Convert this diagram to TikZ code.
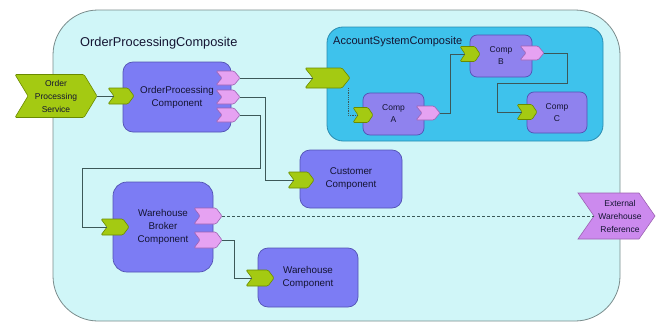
\documentclass[tikz,border=0pt]{standalone}
\usepackage{fontspec}
\setmainfont{Liberation Sans}
\definecolor{outerfill}{HTML}{D0F6F8}
\definecolor{outerline}{HTML}{7A8C8C}
\definecolor{ascfill}{HTML}{3EC2EC}
\definecolor{ascline}{HTML}{2A8CB0}
\definecolor{compfill}{HTML}{7C7CF4}
\definecolor{compline}{HTML}{5252B4}
\definecolor{innerfill}{HTML}{8F82EE}
\definecolor{svcfill}{HTML}{A4CA12}
\definecolor{svcline}{HTML}{6A8A00}
\definecolor{reffill}{HTML}{E6A2F2}
\definecolor{refline}{HTML}{9C62B2}
\definecolor{extfill}{HTML}{CC8AEE}
\definecolor{wirecol}{HTML}{3C5858}
\definecolor{textcol}{HTML}{141432}
\tikzset{
  % chevron port: half width, half height, tip depth, style
  pics/chev/.style n args={4}{code={
    \draw[#4] (-#1,-#2) -- ({#1-#3},-#2) -- (#1,0) -- ({#1-#3},#2)
      -- (-#1,#2) -- ({-#1+#3},0) -- cycle;
    \coordinate (-in) at ({-#1+#3},0);
    \coordinate (-out) at (#1,0);
  }},
  svc/.style={fill=svcfill, draw=svcline, line width=0.6pt, rounded corners=1.2pt},
  ref/.style={fill=reffill, draw=refline, line width=0.6pt, rounded corners=1.2pt},
  extref/.style={fill=extfill, draw=refline, line width=0.6pt},
  box/.style={draw, anchor=north west, inner sep=0pt, outer sep=0pt,
    align=center, text=textcol},
  comp/.style={box, fill=compfill, draw=compline, line width=0.7pt,
    rounded corners=10pt, font=\fontsize{9.8}{13}\selectfont},
  inner/.style={box, fill=innerfill, draw=compline, line width=0.7pt,
    rounded corners=7pt, font=\fontsize{8.5}{12}\selectfont},
  wire/.style={draw=wirecol, line width=0.8pt},
  title/.style={anchor=west, inner sep=0pt, text=textcol},
  lbl/.style={align=center, inner sep=0pt, text=textcol,
    font=\fontsize{8.5}{13}\selectfont}
}
\begin{document}
\begin{tikzpicture}[x=1pt,y=-1pt]
\useasboundingbox (0,0) rectangle (656,324);
\fill[white] (0,0) rectangle (656,324);

% composites
\node[box, fill=outerfill, draw=outerline, line width=0.8pt, rounded corners=45pt,
  minimum width=567pt, minimum height=311pt] (opcomp) at (53,10) {};
\node[title, font=\fontsize{12.8}{14}\selectfont] (opcompt) at (80,43) {OrderProcessingComposite};
\node[box, fill=ascfill, draw=ascline, line width=0.8pt, rounded corners=16pt,
  minimum width=276pt, minimum height=114pt] (asc) at (327,27) {};
\node[title, font=\fontsize{11}{12}\selectfont] (asctitle) at (333,42) {AccountSystemComposite};

% components
\node[comp, minimum width=108pt, minimum height=70pt] (opc) at (123,62) {OrderProcessing\\Component};
\node[inner, minimum width=61pt, minimum height=42pt] (ca) at (363,93) {Comp\\A};
\node[inner, minimum width=62pt, minimum height=42pt] (cb) at (470,35) {Comp\\B};
\node[inner, minimum width=60pt, minimum height=41pt] (cc) at (527,92) {Comp\\C};
\node[comp, minimum width=102pt, minimum height=58pt] (cust) at (300,150) {Customer\\Component};
\node[comp, rounded corners=14pt, minimum width=100pt, minimum height=90pt] (wbc) at (113,182) {Warehouse\\Broker\\Component};
\node[comp, minimum width=100pt, minimum height=59pt] (wh) at (258,248) {Warehouse\\Component};

% promoted service and external reference
\pic (ops) at (56,96) {chev={41}{21.5}{13}{svc}};
\node[lbl] (opst) at (56,96) {Order\\Processing\\Service};
\pic (ext) at (616.5,216) {chev={38.5}{23}{16}{extref}};
\node[lbl] (extt) at (620,216) {External\\Warehouse\\Reference};

% ports
\pic (opcS) at (121,96) {chev={13}{8}{6}{svc}};
\pic (opcR1) at (228,78) {chev={12}{7}{6}{ref}};
\pic (opcR2) at (228,97) {chev={12}{7}{6}{ref}};
\pic (opcR3) at (228,115) {chev={12}{7}{6}{ref}};
\pic (ascS) at (327.5,78) {chev={22.5}{10}{8}{svc}};
\pic (aS) at (363,115) {chev={10}{7.5}{5}{svc}};
\pic (aR) at (428,113) {chev={12}{7}{6}{ref}};
\pic (bS) at (470,54) {chev={10}{7.5}{5}{svc}};
\pic (bR) at (532,53) {chev={12}{7}{6}{ref}};
\pic (cS) at (527,112) {chev={10}{7.5}{5}{svc}};
\pic (custS) at (301,180) {chev={13}{8}{6}{svc}};
\pic (wbcS) at (115,227) {chev={14}{8}{6}{svc}};
\pic (wbcR1) at (208,216) {chev={14}{8}{6}{ref}};
\pic (wbcR2) at (208,240) {chev={14}{8}{6}{ref}};
\pic (whS) at (260,278) {chev={14}{8}{6}{svc}};

% wire bends
\coordinate (ascdrop) at (348,88);
\coordinate (bcA) at (567,83);
\coordinate (bcB) at (497,83);
\coordinate (k2) at (265,180);
\coordinate (k3) at (260,168);
\coordinate (k4) at (82,168);
\coordinate (k5) at (234,278);

% wires
\draw[wire] (ops-out) -- (opcS-in);
\draw[wire] (opcR1-out) -- (ascS-in);
\draw[wire, densely dotted, line width=0.6pt] (ascdrop) |- (aS-in);
\draw[wire] (aR-out) -- ++(10,0) |- (bS-in);
\draw[wire] (bR-out) -| (bcA) -- (bcB) |- (cS-in);
\draw[wire] (opcR2-out) -| (k2) -- (custS-in);
\draw[wire] (opcR3-out) -| (k3) -- (k4) |- (wbcS-in);
\draw[wire, dashed, dash pattern=on 3pt off 2pt] (wbcR1-out) -- (ext-in);
\draw[wire] (wbcR2-out) -| (k5) -- (whS-in);
\end{tikzpicture}
\end{document}
